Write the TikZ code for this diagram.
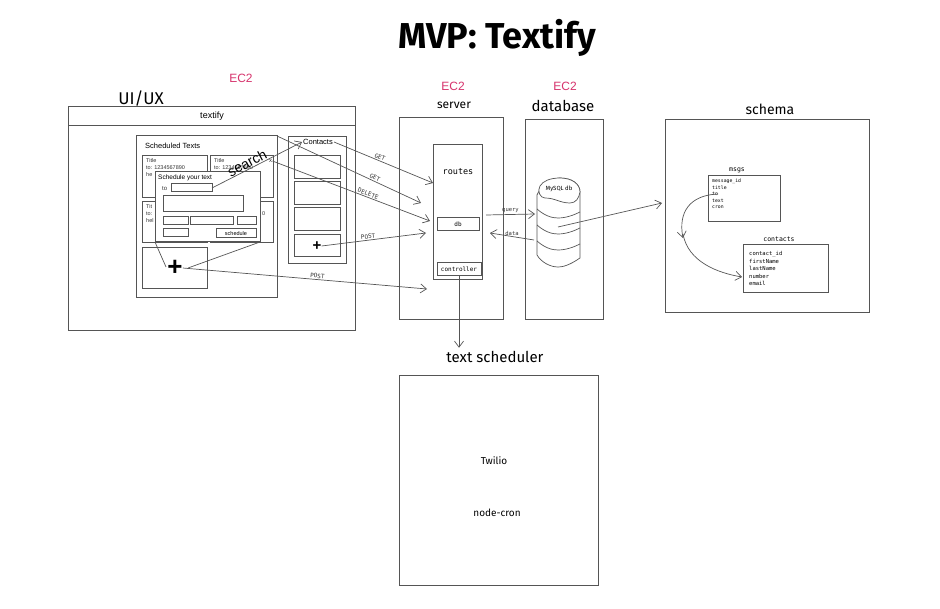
\documentclass[tikz,border=0pt]{standalone}
\usepackage{fontspec}
\setmainfont{Liberation Sans}
\newfontfamily\handf{Fira Sans}
\newfontfamily\monof{DejaVu Sans Mono}
\usetikzlibrary{arrows.meta}
\definecolor{ln}{HTML}{555555}
\definecolor{ecc}{HTML}{D6336C}
\begin{document}
\begin{tikzpicture}[x=1pt,y=-1pt,
 box/.style={draw=ln, line width=1pt, inner sep=0pt, outer sep=0pt, anchor=north west},
 wbox/.style={box, fill=white},
 conn/.style={draw=ln, line width=0.7pt},
 arr/.style={conn, -{Straight Barb[length=6pt,width=9pt]}},
 lbl/.style={font=\monof\fontsize{6}{7}\selectfont, text=black!80, inner sep=1pt},
 handl/.style={font=\handf\fontsize{12}{14}\selectfont},
 ectxt/.style={font=\fontsize{12}{14}\selectfont, text=ecc},
 tiny/.style={font=\fontsize{5.5}{6}\selectfont, inner sep=0pt, anchor=west, text=black!80},
 fld/.style={font=\monof\fontsize{4.8}{5}\selectfont, inner sep=0pt, anchor=west},
 fldb/.style={font=\monof\fontsize{5.5}{6}\selectfont, inner sep=0pt, anchor=west}
]
\useasboundingbox (0,0) rectangle (940,609);

% title and headings
\node[font=\handf\bfseries\fontsize{36}{40}\selectfont] (title) at (497,38) {MVP: Textify};
\node[ectxt] (ec1) at (241,78) {EC2};
\node[ectxt] (ec2) at (453,86) {EC2};
\node[ectxt] (ec3) at (565,86) {EC2};
\node[font=\handf\fontsize{17}{18}\selectfont] (uilbl) at (141,99) {UI/UX};
\node[font=\handf\fontsize{12}{14}\selectfont] (srvlbl) at (454,105) {server};
\node[font=\handf\fontsize{15}{16}\selectfont] (dblbl) at (563,106) {database};
\node[font=\handf\fontsize{14}{16}\selectfont] (schlbl) at (770,109) {schema};
\node[font=\handf\fontsize{15}{16}\selectfont] (tslbl) at (495,357) {text scheduler};

% UI
\node[box, minimum width=287pt, minimum height=224pt] (ui) at (68,107) {};
\node[box, minimum width=287pt, minimum height=19pt] (hdr) at (68,107) {};
\node[font=\fontsize{9}{10}\selectfont] (hdrt) at (212,116.5) {textify};

\node[box, minimum width=141pt, minimum height=162pt] (sched) at (136,136) {};
\node[font=\fontsize{7.5}{8}\selectfont, anchor=west, inner sep=0pt] (schedt) at (145,146) {Scheduled Texts};

\node[box, minimum width=65pt, minimum height=42pt] (c1) at (142,156) {};
\node[box, minimum width=63pt, minimum height=42pt] (c2) at (210,156) {};
\node[box, minimum width=65pt, minimum height=41pt] (c3) at (142,202) {};
\node[box, minimum width=63pt, minimum height=41pt] (c4) at (210,202) {};
% visible fragments of card texts
\node[tiny] (ta1) at (146,161) {Title};
\node[tiny] (ta2) at (146,167.5) {to: 1234567890};
\node[tiny] (ta3) at (146,175) {he};
\node[tiny] (tb1) at (214,161) {Title};
\node[tiny] (tb2) at (214,167.5) {to: 1234567890};
\node[tiny] (tc1) at (146,207) {Tit};
\node[tiny] (tc2) at (146,214) {to:};
\node[tiny] (tc3) at (146,221) {hel};
\node[tiny] (td2) at (262,214) {0};
\node[tiny, font=\fontsize{6}{6}\selectfont] (xdel) at (269,161) {x};
\node[box, minimum width=65pt, minimum height=41pt] (addt) at (142,248) {};
\node[font=\bfseries\fontsize{26}{26}\selectfont, inner sep=0pt] (plus1) at (175,268) {+};

% modal
\node[wbox, minimum width=105pt, minimum height=70pt] (modal) at (155,172) {};
\node[font=\fontsize{6.5}{7}\selectfont, anchor=west, inner sep=0pt] (modalt) at (158,178) {Schedule your text};
\node[tiny, font=\fontsize{6}{6}\selectfont] (tolbl) at (162,188.5) {to};
\node[box, minimum width=41pt, minimum height=8pt] (toin) at (171,184) {};
\node[box, minimum width=80pt, minimum height=16pt] (msgin) at (163,196) {};
\node[box, minimum width=25pt, minimum height=8pt] (f1) at (163,217) {};
\node[box, minimum width=43pt, minimum height=8pt] (f2) at (190,217) {};
\node[box, minimum width=19pt, minimum height=8pt] (f3) at (237,217) {};
\node[box, minimum width=25pt, minimum height=8pt] (f4) at (163,229) {};
\node[box, minimum width=40pt, minimum height=9pt] (schbtn) at (216,229) {};
\node[font=\fontsize{5.5}{6}\selectfont, inner sep=0pt] (schbtnt) at (schbtn.center) {schedule};
\draw[conn] (modal.south west) -- (166,267);
\draw[conn] (modal.south east) -- (188,268);

% search
\node[font=\fontsize{14}{15}\selectfont, rotate=28, inner sep=0pt] (search) at (247,163) {search};

% contacts panel
\node[box, minimum width=58pt, minimum height=127pt] (cpanel) at (288,137) {};
\node[font=\fontsize{7.5}{8}\selectfont, inner sep=1pt] (ctitle) at (318,142) {Contacts};
\node[box, minimum width=46pt, minimum height=23pt] (k1) at (294,156) {};
\node[box, minimum width=46pt, minimum height=23pt] (k2) at (294,182) {};
\node[box, minimum width=46pt, minimum height=23pt] (k3) at (294,208) {};
\node[box, minimum width=46pt, minimum height=22pt] (k4) at (294,235) {};
\node[font=\bfseries\fontsize{15}{15}\selectfont, inner sep=0pt] (plus2) at (317,246) {+};

\draw[arr] (toin.east) -- (ctitle.west);

% server
\node[box, minimum width=104pt, minimum height=202pt] (server) at (399,118) {};
\node[box, minimum width=49pt, minimum height=135pt] (routes) at (433,145) {};
\node[font=\monof\fontsize{8.5}{9}\selectfont] (routest) at (458,172) {routes};
\node[box, minimum width=42pt, minimum height=13pt] (dbb) at (437,218) {};
\node[font=\monof\fontsize{6}{7}\selectfont] (dbt) at (dbb.center) {db};
\node[box, minimum width=44pt, minimum height=13pt] (ctrl) at (437,263) {};
\node[font=\monof\fontsize{6}{7}\selectfont] (ctrlt) at (ctrl.center) {controller};

\coordinate (r1) at (433,183);
\coordinate (r2) at (421,203);
\coordinate (r3) at (430,221);
\coordinate (r4) at (426,233);
\coordinate (r5) at (427,289);
\draw[arr] (ctitle.east) -- node[lbl, sloped, above, pos=0.45] {GET} (r1);
\draw[arr] (sched.north east) -- node[lbl, sloped, above, pos=0.67] {GET} (r2);
\draw[arr] (xdel.east) -- node[lbl, sloped, above, pos=0.6] {DELETE} (r3);
\draw[arr] (plus2.east) -- node[lbl, sloped, above, pos=0.45] {POST} (r4);
\draw[arr] (plus1.east) -- node[lbl, sloped, above, pos=0.55] {POST} (r5);

% database
\node[box, minimum width=78pt, minimum height=200pt] (db) at (525,120) {};
\coordinate (cyl) at (558,227);
\draw[ln, line width=0.7pt, fill=white]
  (537,255) -- (537,195) .. controls (540,188) and (548,178) .. (560,178)
  .. controls (572,178) and (580,184) .. (580,192) -- (580,258)
  .. controls (574,262) and (566,267) .. (558,267)
  .. controls (550,267) and (541,262) .. (537,255) -- cycle;
\draw[ln, line width=0.7pt, fill=white]
  (540,186) .. controls (543,181) and (550,178) .. (560,178)
  .. controls (572,178) and (580,184) .. (580,192)
  .. controls (579,198) and (576,203) .. (570,203)
  .. controls (560,203) and (555,198) .. (545,198)
  .. controls (540,198) and (537,191) .. (540,186) -- cycle;
\node[font=\handf\fontsize{6}{7}\selectfont, inner sep=0pt] (mysql) at (559,189) {MySQL db};
\foreach \yy in {209,225,241}{
  \draw[ln, line width=0.7pt] (537,\yy) .. controls (545,\yy+7) and (552,\yy+9) .. (558,\yy+9) .. controls (566,\yy+9) and (574,\yy+6) .. (580,\yy+3);
}

\coordinate (q1) at (486,215);
\coordinate (q2) at (535,214);
\coordinate (d1) at (534,240);
\coordinate (d2) at (490,233);
\draw[arr] (q1) -- node[lbl, above, font=\monof\fontsize{5.5}{6}\selectfont] {query} (q2);
\draw[arr] (d1) -- node[lbl, above, font=\monof\fontsize{5.5}{6}\selectfont] {data} (d2);

% schema
\node[box, minimum width=204pt, minimum height=193pt] (schema) at (665,120) {};
\coordinate (sch) at (662,203);
\draw[arr] (cyl) -- (sch);

\node[font=\monof\fontsize{6.5}{7}\selectfont] (msgsl) at (737,170) {msgs};
\node[box, minimum width=72pt, minimum height=46pt] (msgs) at (708,176) {};
\node[fld] (m1) at (712,181) {message\_id};
\node[fld] (m2) at (712,187.5) {title};
\node[fld] (m3) at (712,194) {to};
\node[fld] (m4) at (712,200.5) {text};
\node[fld] (m5) at (712,207) {cron};

\node[font=\monof\fontsize{6.5}{7}\selectfont] (contl) at (779,239) {contacts};
\node[box, minimum width=85pt, minimum height=48pt] (conts) at (743,245) {};
\node[fldb] (n1) at (749,254) {contact\_id};
\node[fldb] (n2) at (749,261.5) {firstName};
\node[fldb] (n3) at (749,268.5) {lastName};
\node[fldb] (n4) at (749,276) {number};
\node[fldb] (n5) at (749,283) {email};

\coordinate (mid) at (683,238);
\coordinate (ctin) at (742,277);
\draw[arr] (m3.east) .. controls (690,195) and (678,212) .. (mid);
\draw[arr] (683,234) .. controls (688,262) and (718,273) .. (ctin);

% text scheduler
\node[box, minimum width=199pt, minimum height=209pt] (ts) at (399,376) {};
\node[font=\handf\fontsize{10}{11}\selectfont] (twilio) at (494,461) {Twilio};
\node[font=\handf\fontsize{10}{11}\selectfont] (cron) at (497,513) {node-cron};
\draw[arr] (ctrl.south -| 459,0) -- (tslbl.north -| 459,0);
\end{tikzpicture}
\end{document}
